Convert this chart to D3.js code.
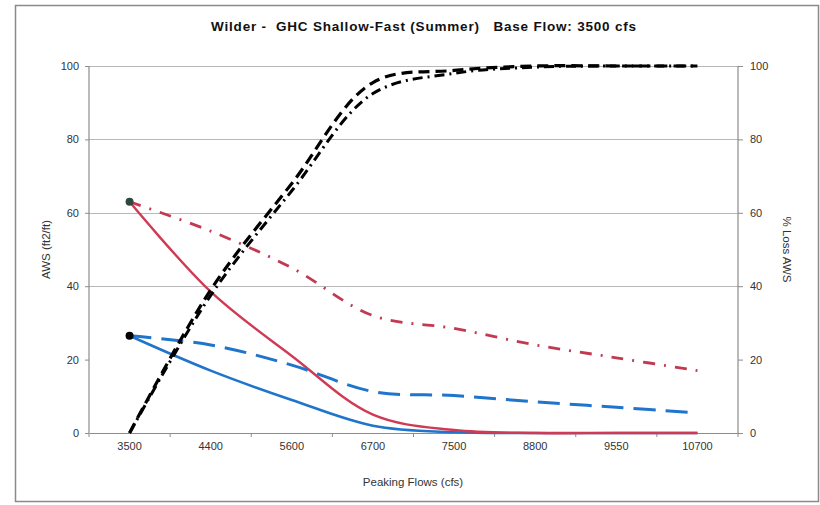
<!DOCTYPE html>
<html>
<head>
<meta charset="utf-8">
<script src="https://cdn.jsdelivr.net/npm/d3@7"></script>
<style>
  html, body { margin: 0; padding: 0; background: #fff; }
  svg { display: block; font-family: "Liberation Sans", Arial, sans-serif; }
</style>
</head>
<body>
<svg id="chart" width="820" height="505"></svg>
<script>
// ---- data ----
const categories = ["3500", "4400", "5600", "6700", "7500", "8800", "9550", "10700"];
const awsRedSolid   = [63, 38.5, 21, 5, 0.8, 0, 0, 0];
const awsBlueSolid  = [26.5, 17, 9, 2, 0.2, 0, 0, 0];
const awsBlueDashed = [26.5, 24, 18.5, 11.3, 10.2, 8.5, 7, 5.5];
const awsRedDashDot = [63, 55, 45, 32, 28.5, 24, 20.5, 17];
const lossDashed    = [0, 39, 68, 95.5, 98.8, 100, 100, 100];
const lossDashDot   = [0, 37.5, 66, 92.5, 98, 99.7, 100, 100];
const leftTicks  = [0, 20, 40, 60, 80, 100];
const rightTicks = [0, 20, 40, 60, 80, 100];
const gridValues = [40, 60, 80, 100];
const titleText = "Wilder -  GHC Shallow-Fast (Summer)   Base Flow: 3500 cfs";
const xTitle = "Peaking Flows (cfs)";
const yLeftTitle = "AWS (ft2/ft)";
const yRightTitle = "% Loss AWS";

// ---- layout ----
const svg = d3.select("#chart");
const plot = { left: 89, right: 738, top: 66, bottom: 433 };

svg.append("rect").attr("x", 15.5).attr("y", 5.5).attr("width", 803).attr("height", 496)
  .attr("fill", "#fff").attr("stroke", "#8a8a8a").attr("stroke-width", 1.5);

const x = d3.scaleBand().domain(categories).range([plot.left, plot.right]);
const xc = c => x(c) + x.bandwidth() / 2;
const yL = d3.scaleLinear().domain([0, 100]).range([plot.bottom, plot.top]);
const yR = d3.scaleLinear().domain([0, 100]).range([plot.bottom, plot.top]);

// gridlines
svg.append("g").selectAll("line").data(gridValues).join("line")
  .attr("x1", plot.left).attr("x2", plot.right)
  .attr("y1", d => Math.round(yL(d)) + 0.5).attr("y2", d => Math.round(yL(d)) + 0.5)
  .attr("stroke", "#b8b8b8").attr("stroke-width", 1.2);

// axes
const axisColor = "#8c8c8c";
const gL = svg.append("g").attr("transform", `translate(${plot.left},0)`)
  .call(d3.axisLeft(yL).tickValues(leftTicks).tickSize(4).tickPadding(6));
const gR = svg.append("g").attr("transform", `translate(${plot.right},0)`)
  .call(d3.axisRight(yR).tickValues(rightTicks).tickSize(5).tickPadding(7));
const gX = svg.append("g").attr("transform", `translate(0,${plot.bottom})`)
  .call(d3.axisBottom(x).tickSize(0).tickPadding(9));
// category boundary ticks
svg.append("g").selectAll("line").data(d3.range(categories.length + 1)).join("line")
  .attr("x1", i => plot.left + i * x.bandwidth()).attr("x2", i => plot.left + i * x.bandwidth())
  .attr("y1", plot.bottom).attr("y2", plot.bottom + 4)
  .attr("stroke", axisColor);

[gL, gR, gX].forEach(g => {
  g.select(".domain").attr("stroke", axisColor).attr("stroke-width", 1.2);
  g.selectAll(".tick line").attr("stroke", axisColor);
  g.selectAll(".tick text").attr("fill", "#333").attr("font-size", 11)
    .attr("font-family", "'Liberation Sans', Arial, sans-serif");
});
gL.select(".domain").attr("d", `M0,${plot.bottom}V${plot.top}`);
gR.select(".domain").attr("d", `M0,${plot.bottom}V${plot.top}`);

// ---- series ----
const curve = d3.curveCatmullRom.alpha(0.5);
const lineL = d3.line().x((d, i) => xc(categories[i])).y(d => Math.min(yL(0), yL(d))).curve(curve);
const lineR = d3.line().x((d, i) => xc(categories[i])).y(d => yR(d)).curve(curve);

const red = "#cf3b55", blue = "#1f74cc";
const series = [
  { data: awsBlueSolid,  gen: lineL, color: blue,  width: 2.6, dash: null },
  { data: awsRedSolid,   gen: lineL, color: red,   width: 2.4, dash: null },
  { data: awsBlueDashed, gen: lineL, color: blue,  width: 3,   dash: "22,10" },
  { data: awsRedDashDot, gen: lineL, color: "#c23a52", width: 2.8, dash: "12,9,2,9" },
  { data: lossDashed,    gen: lineR, color: "#000", width: 3.2, dash: "11,6" },
  { data: lossDashDot,   gen: lineR, color: "#000", width: 3,   dash: "10,5,2,5" }
];
svg.append("g").selectAll("path").data(series).join("path")
  .attr("d", s => s.gen(s.data))
  .attr("fill", "none")
  .attr("stroke", s => s.color)
  .attr("stroke-width", s => s.width)
  .attr("stroke-dasharray", s => s.dash);

// start markers
svg.append("circle").attr("cx", xc(categories[0])).attr("cy", yL(awsRedSolid[0])).attr("r", 4).attr("fill", "#2b4a3c");
svg.append("circle").attr("cx", xc(categories[0])).attr("cy", yL(awsBlueSolid[0])).attr("r", 4).attr("fill", "#000");

// ---- text ----
svg.append("text").attr("x", 424).attr("y", 31).attr("text-anchor", "middle")
  .attr("font-size", 13.5).attr("font-weight", "bold").attr("fill", "#111")
  .attr("letter-spacing", 0.8)
  .style("white-space", "pre").attr("xml:space", "preserve").text(titleText);
svg.append("text").attr("x", 413).attr("y", 486).attr("text-anchor", "middle")
  .attr("font-size", 11.5).attr("fill", "#333").text(xTitle);
svg.append("text").attr("transform", `translate(46,${(plot.top + plot.bottom) / 2}) rotate(-90)`)
  .attr("text-anchor", "middle").attr("dy", "0.35em")
  .attr("font-size", 11.5).attr("fill", "#333").text(yLeftTitle);
svg.append("text").attr("transform", `translate(787,${(plot.top + plot.bottom) / 2}) rotate(90)`)
  .attr("text-anchor", "middle").attr("dy", "0.35em")
  .attr("font-size", 11.5).attr("fill", "#333").text(yRightTitle);
</script>
</body>
</html>
